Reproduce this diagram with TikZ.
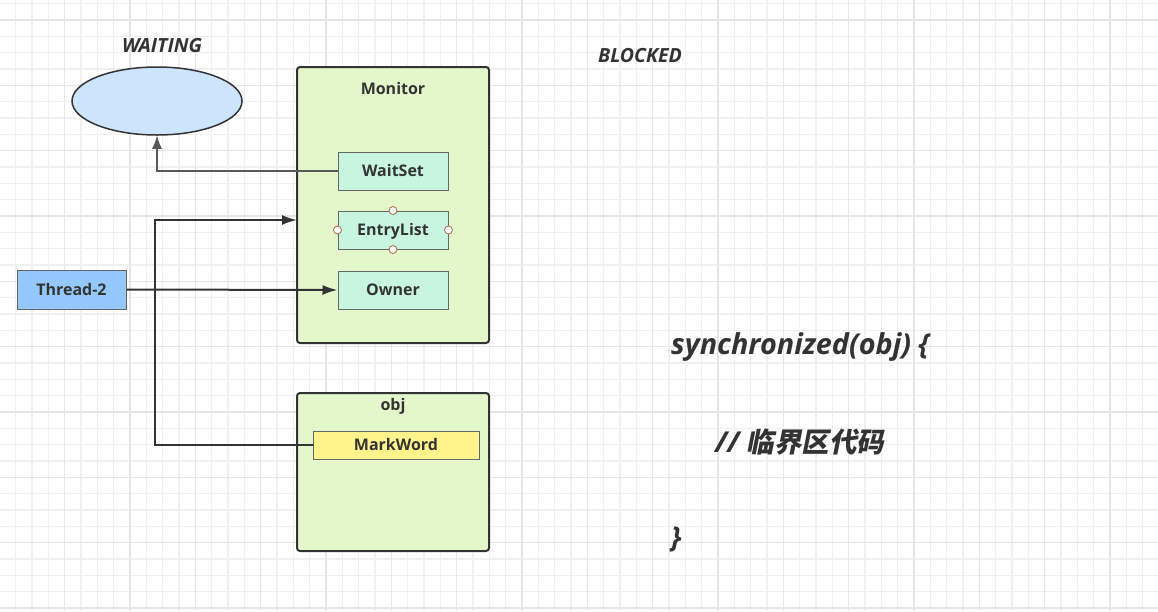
\documentclass[tikz,border=0pt]{standalone}
\usepackage{fontspec}
\setmainfont{Open Sans}
\newfontfamily\cjkbf{Noto Sans CJK SC Bold}[FakeSlant=0.2]
\usepackage{tikz}
\usetikzlibrary{arrows.meta,%
                shapes.geometric}
\definecolor{gridminor}{HTML}{F0F0F0}
\definecolor{gridmajor}{HTML}{E6E6E6}
\definecolor{ink}{HTML}{333333}
\definecolor{monitorfill}{HTML}{E4F7CB}
\definecolor{slotfill}{HTML}{C8F5E0}
\definecolor{threadfill}{HTML}{95C8FA}
\definecolor{waitfill}{HTML}{CCE4FD}
\definecolor{markfill}{HTML}{FFF38C}
\definecolor{handle}{HTML}{B0684A}

\begin{document}
\begin{tikzpicture}[x=1pt,y=-1pt]
		\tikzstyle{Frame}=[draw=ink,line width=2pt,rounded corners=3pt,fill=monitorfill]
		\tikzstyle{Slot}=[draw=black!60,line width=1pt,fill=slotfill,minimum width=110pt,minimum height=38pt,text height=13.5pt,text depth=2pt,font=\fontsize{16}{19}\selectfont\bfseries,text=ink]
		\tikzstyle{Title}=[font=\fontsize{16}{19}\selectfont\bfseries,text=ink]
		\tikzstyle{State}=[font=\fontsize{19.5}{23}\selectfont\bfseries\itshape,text=ink]
		\tikzstyle{Code}=[font=\fontsize{28.8}{33}\selectfont\bfseries\itshape,text=ink,anchor=base west,inner sep=0pt]
		\tikzstyle{Handle}=[circle,draw=handle,fill=white,line width=0.8pt,inner sep=0pt,minimum size=8pt]
		\tikzstyle{EdgeStyle}=[draw=ink,line width=2pt,-{Latex[length=15pt,width=10pt]}]
		\tikzstyle{ThinEdge}=[draw=black!65,line width=1.2pt,-{Latex[length=13pt,width=10pt]}]
		\useasboundingbox (0,0) rectangle (1158,611);
		\fill[white] (0,0) rectangle (1158,611);
		% grid
		\foreach \i in {0,...,71}
			\draw[gridminor,line width=1.3pt] (-0.6+16.33*\i,0) -- (-0.6+16.33*\i,611);
		\foreach \j in {0,...,38}
			\draw[gridminor,line width=1.3pt] (0,3.67+16.33*\j) -- (1158,3.67+16.33*\j);
		\foreach \i in {0,...,18}
			\draw[gridmajor,line width=1.5pt] (-0.6+65.33*\i,0) -- (-0.6+65.33*\i,611);
		\foreach \j in {0,...,9}
			\draw[gridmajor,line width=1.5pt] (0,20+65.33*\j) -- (1158,20+65.33*\j);
		% states
		\node[State] (waitinglabel) at (162,46) {WAITING};
		\node[State] (blockedlabel) at (640,56) {BLOCKED};
		\node[ellipse,draw=ink,line width=1.5pt,fill=waitfill,minimum width=170pt,minimum height=68pt] (waiting) at (157,101) {};
		% monitor
		\draw[Frame] (297,67) rectangle (489,343);
		\node[Title] (monitor) at (393,88) {Monitor};
		\coordinate (enter) at (297,220);
		\node[Slot] (waitset) at (393,171) {WaitSet};
		\node[Slot] (entrylist) at (393,230) {EntryList};
		\node[Slot] (owner) at (393,290) {Owner};
		\node[Handle] (hn) at (entrylist.north) {};
		\node[Handle] (hs) at (entrylist.south) {};
		\node[Handle] (hw) at (entrylist.west) {};
		\node[Handle] (he) at (entrylist.east) {};
		% object
		\draw[Frame] (297,393) rectangle (489,551);
		\node[Title] (objlabel) at (393,406) {obj};
		\node[Slot,fill=markfill,minimum width=166pt,minimum height=28pt] (markword) at (396,445) {MarkWord};
		% thread
		\node[Slot,fill=threadfill,minimum width=109pt,minimum height=39pt] (thread) at (71.5,289.5) {Thread-2};
		\coordinate (turn) at (155,220);
		% edges
		\draw[ThinEdge] (waitset.west) -| (waiting.south);
		\draw[EdgeStyle] (thread.east) -- (owner.west);
		\draw[EdgeStyle] (markword.west) -| (turn) -- (enter);
		% code
		\node[Code] (syncline) at (671,354) {synchronized(obj) \{};
		\node[Code] (bodyline) at (715,452) {// {\cjkbf\fontsize{27.5}{32}\selectfont 临界区代码}};
		\node[Code] (closeline) at (671,547) {\}};
	\end{tikzpicture}
\end{document}
